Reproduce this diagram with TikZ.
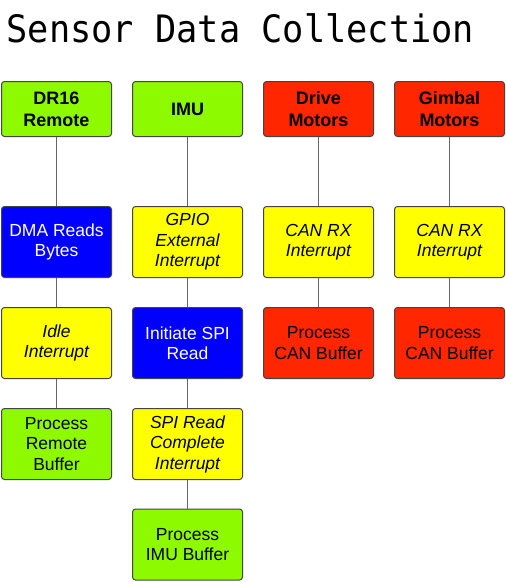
\documentclass[tikz,border=0pt]{standalone}
\usepackage{fontspec}
\setmainfont{Liberation Sans}
\newfontfamily\titlefont{DejaVu Sans Mono}
\definecolor{limeg}{HTML}{8EFA00}
\definecolor{redm}{HTML}{FF2600}
\definecolor{blueb}{HTML}{0000FF}
\definecolor{yellowb}{HTML}{FFFF00}
\definecolor{boxline}{HTML}{444444}
\definecolor{linkc}{HTML}{666666}
\begin{document}
\begin{tikzpicture}[x=1pt,y=-1pt,
  box/.style={draw=boxline, line width=1pt, rounded corners=3pt,
    minimum width=110pt, minimum height=71pt, inner sep=0pt, align=center,
    font=\fontsize{17.5}{20.5}\selectfont},
  headbox/.style={box, minimum height=55pt, font=\fontsize{18}{22}\selectfont\bfseries},
  greenbox/.style={box, fill=limeg},
  redbox/.style={box, fill=redm},
  bluebox/.style={box, fill=blueb, text=white},
  yellowbox/.style={box, fill=yellowb, font=\fontsize{17.5}{20.5}\selectfont\itshape},
  link/.style={draw=linkc, line width=1.5pt}]
\useasboundingbox[fill=white] (0,0) rectangle (506,582);
\node[anchor=base west, inner sep=0pt, font=\titlefont\fontsize{35.3}{40}\selectfont] (title) at (6.3,42) {\scalebox{1}[1.07]{Sensor Data Collection}};
% column 1
\node[headbox, fill=limeg] (dr) at (56.5,109) {DR16\\Remote};
\node[bluebox] (dma) at (56.5,242) {DMA Reads\\Bytes};
\node[yellowbox] (idle) at (56.5,343) {Idle\\Interrupt};
\node[greenbox] (prem) at (56.5,444) {Process\\Remote\\Buffer};
% column 2
\node[headbox, fill=limeg] (imu) at (187.5,109) {IMU};
\node[yellowbox] (gpio) at (187.5,242) {GPIO\\External\\Interrupt};
\node[bluebox] (spi) at (187.5,343) {Initiate SPI\\Read};
\node[yellowbox] (spic) at (187.5,444) {SPI Read\\Complete\\Interrupt};
\node[greenbox] (pimu) at (187.5,544.5) {Process\\IMU Buffer};
% column 3
\node[headbox, fill=redm] (drive) at (318.5,109) {Drive\\Motors};
\node[yellowbox] (can1) at (318.5,242) {CAN RX\\Interrupt};
\node[redbox] (pcan1) at (318.5,343) {Process\\CAN Buffer};
% column 4
\node[headbox, fill=redm] (gimb) at (449.5,109) {Gimbal\\Motors};
\node[yellowbox] (can2) at (449.5,242) {CAN RX\\Interrupt};
\node[redbox] (pcan2) at (449.5,343) {Process\\CAN Buffer};
% links
\draw[link] (dr.south) -- (dma.north);
\draw[link] (dma.south) -- (idle.north);
\draw[link] (idle.south) -- (prem.north);
\draw[link] (imu.south) -- (gpio.north);
\draw[link] (gpio.south) -- (spi.north);
\draw[link] (spi.south) -- (spic.north);
\draw[link] (spic.south) -- (pimu.north);
\draw[link] (drive.south) -- (can1.north);
\draw[link] (can1.south) -- (pcan1.north);
\draw[link] (gimb.south) -- (can2.north);
\draw[link] (can2.south) -- (pcan2.north);
\end{tikzpicture}
\end{document}
